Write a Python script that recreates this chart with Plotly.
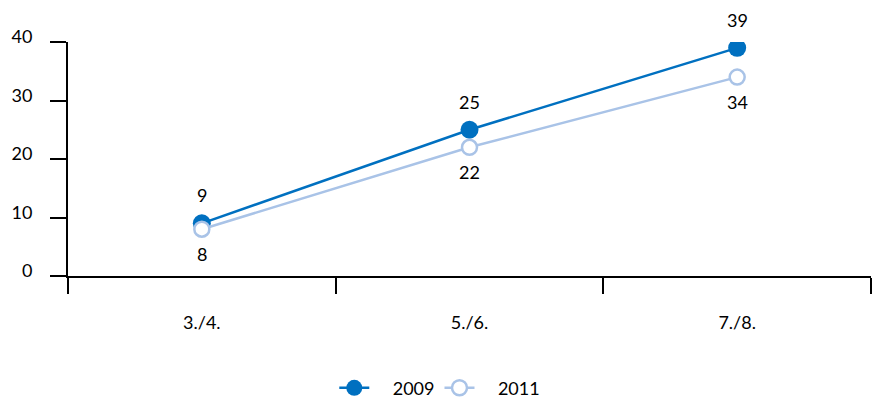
import plotly.graph_objects as go

categories = ["3./4.", "5./6.", "7./8."]
values_2009 = [9, 25, 39]
values_2011 = [8, 22, 34]
series_names = ["2009", "2011"]
y_ticks = [0, 10, 20, 30, 40]

C2009 = "#0070C0"
C2011 = "#A9C3E7"
FONT = "Lato"
FS = 18
PAD = "\u00a0" * 4

fig = go.Figure()
fig.add_trace(go.Scatter(
    x=categories, y=values_2009, name=PAD + series_names[0], mode="lines+markers",
    line=dict(color=C2009, width=2.5),
    marker=dict(size=18, color=C2009, line=dict(width=0)),
))
fig.add_trace(go.Scatter(
    x=categories, y=values_2011, name=PAD + series_names[1], mode="lines+markers",
    line=dict(color=C2011, width=2.5),
    marker=dict(size=15, color="white", line=dict(color=C2011, width=2.5)),
))

for c, v in zip(categories, values_2009):
    fig.add_annotation(x=c, y=v, text=str(v), showarrow=False, yshift=28,
                       font=dict(family=FONT, size=FS, color="black"))
for c, v in zip(categories, values_2011):
    fig.add_annotation(x=c, y=v, text=str(v), showarrow=False, yshift=-25,
                       font=dict(family=FONT, size=FS, color="black"))

fig.update_layout(
    width=874, height=400,
    margin=dict(l=68, r=3, t=42, b=124, autoexpand=False),
    plot_bgcolor="white", paper_bgcolor="white",
    font=dict(family=FONT, size=FS, color="black"),
    showlegend=True,
    legend=dict(orientation="h", x=0.463, xanchor="center", y=-0.479, yanchor="middle",
                font=dict(family=FONT, size=FS), itemwidth=30),
    xaxis=dict(
        type="category", range=[-0.5, 2.5], tickson="boundaries", automargin=False,
        showline=True, linecolor="black", linewidth=2,
        ticks="outside", ticklen=16, tickwidth=2, tickcolor="black",
        showgrid=False, zeroline=False, ticklabelstandoff=29,
    ),
    yaxis=dict(
        range=[0, 40], tickvals=y_ticks, automargin=False,
        showline=True, linecolor="black", linewidth=2,
        ticks="outside", ticklen=16, tickwidth=2, tickcolor="black",
        showgrid=False, zeroline=False, ticklabelstandoff=14, ticklabelshift=-5,
    ),
)

fig.write_html("out.html", config={"displayModeBar": False},
               post_script="document.body.style.margin='0';")
